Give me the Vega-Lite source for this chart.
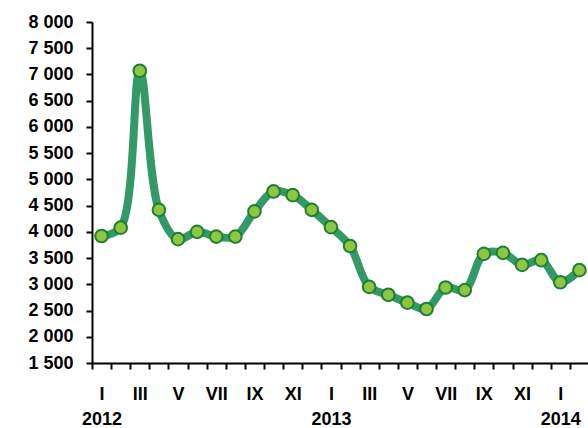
{
  "$schema": "https://vega.github.io/schema/vega-lite/v6.json",
  "width": 497,
  "height": 341,
  "autosize": {"type": "none"},
  "padding": {"left": 92, "top": 22, "right": 0, "bottom": 65},
  "background": "white",
  "config": {
    "view": {"stroke": null},
    "font": "Liberation Sans",
    "axis": {
      "labelFont": "Liberation Sans",
      "labelFontWeight": "bold",
      "labelFontSize": 18,
      "labelColor": "black",
      "domainColor": "black",
      "domainWidth": 2,
      "tickColor": "black",
      "tickWidth": 2,
      "tickSize": 6,
      "grid": false,
      "title": null
    }
  },
  "data": {
    "values": [
      {"month": "I 2012", "value": 3920},
      {"month": "II 2012", "value": 4080},
      {"month": "III 2012", "value": 7070},
      {"month": "IV 2012", "value": 4420},
      {"month": "V 2012", "value": 3860},
      {"month": "VI 2012", "value": 4000},
      {"month": "VII 2012", "value": 3910},
      {"month": "VIII 2012", "value": 3910},
      {"month": "IX 2012", "value": 4390},
      {"month": "X 2012", "value": 4770},
      {"month": "XI 2012", "value": 4700},
      {"month": "XII 2012", "value": 4420},
      {"month": "I 2013", "value": 4090},
      {"month": "II 2013", "value": 3730},
      {"month": "III 2013", "value": 2950},
      {"month": "IV 2013", "value": 2800},
      {"month": "V 2013", "value": 2650},
      {"month": "VI 2013", "value": 2530},
      {"month": "VII 2013", "value": 2940},
      {"month": "VIII 2013", "value": 2890},
      {"month": "IX 2013", "value": 3580},
      {"month": "X 2013", "value": 3600},
      {"month": "XI 2013", "value": 3370},
      {"month": "XII 2013", "value": 3460},
      {"month": "I 2014", "value": 3040},
      {"month": "II 2014", "value": 3270}
    ]
  },
  "encoding": {
    "x": {
      "field": "month",
      "type": "ordinal",
      "sort": null,
      "scale": {"type": "band", "paddingInner": 0, "paddingOuter": 0},
      "axis": {
        "labelAngle": 0,
        "tickBand": "extent",
        "labelPadding": 16,
        "labelLineHeight": 25,
        "labelBaseline": "top",
        "labelExpr": "indexof(['I','III','V','VII','IX','XI'], split(datum.value,' ')[0]) < 0 ? '' : (split(datum.value,' ')[0] == 'I' ? ['I', split(datum.value,' ')[1]] : split(datum.value,' ')[0])"
      }
    },
    "y": {
      "field": "value",
      "type": "quantitative",
      "scale": {"domain": [1500, 8000], "nice": false, "zero": false},
      "axis": {
        "values": [1500, 2000, 2500, 3000, 3500, 4000, 4500, 5000, 5500, 6000, 6500, 7000, 7500, 8000],
        "labelExpr": "replace(format(datum.value, ',d'), ',', ' ')",
        "labelPadding": 13
      }
    }
  },
  "layer": [
    {
      "mark": {"type": "line", "color": "#339966", "strokeWidth": 8, "interpolate": "catmull-rom", "bandPosition": 0.5}
    },
    {
      "mark": {"type": "point", "filled": true, "fill": "#8dc63f", "stroke": "#1e7e34", "strokeWidth": 2, "size": 160, "opacity": 1, "bandPosition": 0.5}
    }
  ]
}
